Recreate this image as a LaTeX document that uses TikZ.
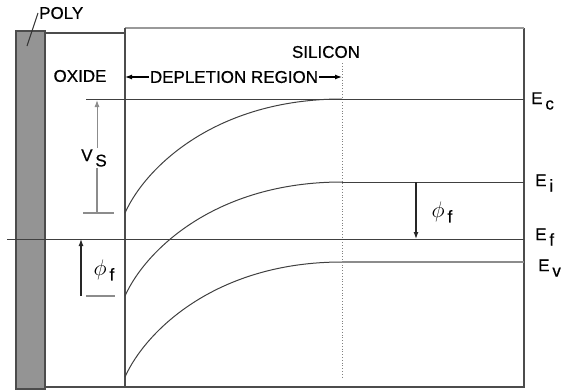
\documentclass[tikz,border=0pt]{standalone}
\usepackage{fontspec}
\setmainfont{Liberation Sans}
\newfontfamily\lblfont[FakeBold=0.6]{Liberation Sans}
\usetikzlibrary{arrows.meta}
\newcommand{\lvl}[2]{#1\,\raisebox{-0.6ex}{#2}}

\begin{document}
\begin{tikzpicture}[x=1pt, y=-1pt,
  lbl/.style={font=\lblfont\fontsize{17}{19}\selectfont, inner sep=1pt},
  edge/.style={draw=black!70, line width=1.1pt},
  band/.style={draw=black!75, line width=1pt},
  arr/.style={-{Latex[length=7pt,width=5pt]}, line width=1.2pt},
  garr/.style={arr, draw=black!45, line width=1pt},
  tick/.style={draw=black!45, line width=1.2pt}]
\useasboundingbox (0,0) rectangle (563,391);
% gate, oxide and silicon
\draw[edge, fill=black!42] (16,31) rectangle (45,389);
\draw[edge] (45,33) -- (125,33);
\draw[edge] (45,387) -- (125,387);
\draw[edge] (125,387) -- (524,387) -- (524,28);
\draw[draw=black!40, line width=1.3pt] (125,28) -- (524,28);
\draw[edge] (125,28) -- (125,387);
\draw[black!50, dotted, line width=0.8pt] (342,63) -- (342,377);
% labels
\node[lbl, anchor=west] (poly) at (38,13) {POLY};
\draw[black!80, line width=1pt] (27,46) -- (poly.west);
\node[lbl] (ox) at (80,76) {OXIDE};
\node[lbl] (si) at (326,52) {SILICON};
\node[lbl] (dep) at (234,77) {DEPLETION REGION};
\draw[arr] (dep.west) -- (125,77);
\draw[arr] (dep.east) -- (342,77);
% bands
\draw[band] (86,99) -- (524,99);
\foreach \y in {99,182} {
  \draw[band] (125,\y+114) .. controls (145,\y+69) and (215,\y) .. (342,\y);
}
\draw[band] (342,182) -- (524,182);
\draw[band] (125,377) .. controls (145,332) and (215,262) .. (342,262);
\draw[draw=black!45, line width=1.8pt] (342,262) -- (524,262);
\draw[band] (7,239) -- (524,239);
\node[lbl, anchor=west] (ec) at (530,101) {\lvl{E}{c}};
\node[lbl, anchor=west] (ei) at (534,183) {\lvl{E}{i}};
\node[lbl, anchor=west] (ef) at (534,237) {\lvl{E}{f}};
\node[lbl, anchor=west] (ev) at (537,268) {\lvl{E}{v}};
% surface potential
\coordinate (vstop) at (97,100);
\coordinate (vsbot) at (97,213);
\node[lbl] (vs) at (94,158) {\lvl{V}{S}};
\draw[garr] (vstop |- vs.north) -- (vstop);
\draw[tick] (vstop |- vs.south) -- (vsbot);
\draw[tick] (83,213) -- (114,213);
% fermi potential, oxide side
\coordinate (pltop) at (81,239);
\coordinate (plbot) at (81,296);
\draw[arr, black!85] (plbot) -- (pltop);
\draw[tick] (86,296) -- (115,296);
\node[lbl] (phil) at (104,270) {\lvl{\scalebox{1.3}{$\phi$}}{f}};
% fermi potential, bulk
\coordinate (prtop) at (416,182);
\coordinate (prbot) at (416,239);
\draw[arr, black!85] (prtop) -- (prbot);
\node[lbl] (phir) at (442,212) {\lvl{\scalebox{1.3}{$\phi$}}{f}};
\end{tikzpicture}
\end{document}
